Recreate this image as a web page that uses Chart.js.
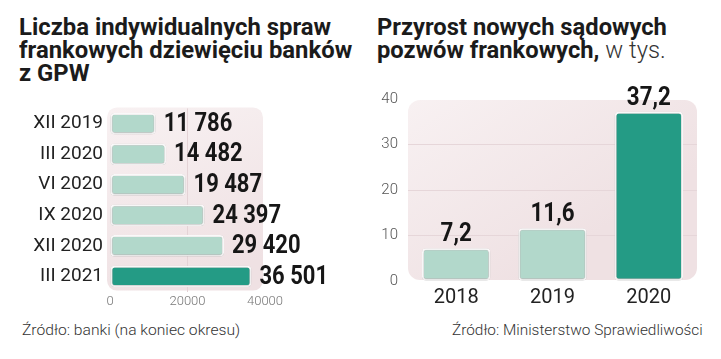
<!DOCTYPE html>
<html>
<head>
<meta charset="utf-8">
<script src="https://cdn.jsdelivr.net/npm/chart.js@4.4.1/dist/chart.umd.min.js"></script>
<style>
body{margin:0;background:#fff;width:721px;height:359px;position:relative;overflow:hidden;font-family:Roboto,sans-serif}
.title{position:absolute;top:16px;font-family:Roboto,sans-serif;font-weight:bold;font-size:23px;line-height:23px;color:#1b1b1b;white-space:nowrap;transform-origin:0 0}
.title .light{font-weight:300;color:#333}
.src{position:absolute;top:321px;font-family:Roboto,sans-serif;font-weight:300;font-size:15px;color:#333;white-space:nowrap;transform-origin:0 0}
canvas{position:absolute}
</style>
</head>
<body>
<div class="title" style="left:19px" data-w="333">Liczba indywidualnych spraw<br>frankowych dziewięciu banków<br>z GPW</div>
<div class="title" style="left:377px" data-w="290">Przyrost nowych sądowych<br>pozwów frankowych, <span class="light">w tys.</span></div>
<div style="position:absolute;left:0;top:90px;width:360px;height:220px"><canvas id="cases"></canvas></div>
<div style="position:absolute;left:360px;top:80px;width:361px;height:230px"><canvas id="suits"></canvas></div>
<div class="src" style="left:22px" data-w="218">Źródło: banki (na koniec okresu)</div>
<div class="src" style="left:452px" data-w="251">Źródło: Ministerstwo Sprawiedliwości</div>
<script>
'use strict';
// left chart: cases per period
const periods = ['XII 2019','III 2020','VI 2020','IX 2020','XII 2020','III 2021'];
const caseCounts = [11786,14482,19487,24397,29420,36501];
const caseTicks = [0,20000,40000];
// right chart: new lawsuits, thousands
const years = ['2018','2019','2020'];
const lawsuits = [7.2,11.6,37.2];
const lawsuitTicks = [0,10,20,30,40];

const mint = '#b2d8cb', teal = '#249b85';

// squeeze text blocks to the condensed widths of the original
document.querySelectorAll('[data-w]').forEach(el => {
  el.style.transform = 'scaleX(' + (el.dataset.w / el.scrollWidth) + ')';
});

function spaced(v){ return String(v).replace(/\B(?=(\d{3})+(?!\d))/g,' '); }
function comma(v){ return v.toFixed(1).replace('.',','); }

const plotBg = {
  id:'plotBg',
  beforeDraw(chart, args, o){
    const ctx = chart.ctx, a = chart.chartArea;
    const x = a.left + o.l, y = a.top + o.t, w = a.right + o.r - x, h = a.bottom + o.b - y;
    const g = ctx.createLinearGradient(x, y, x + w * 0.4, y + h);
    g.addColorStop(0,'#f8f1f2');
    g.addColorStop(1,'#efe1e3');
    ctx.save();
    ctx.fillStyle = g;
    ctx.beginPath();
    ctx.roundRect(x, y, w, h, o.radius);
    ctx.fill();
    ctx.restore();
  }
};

const barLabels = {
  id:'barLabels',
  beforeDatasetsDraw(chart){
    const ctx = chart.ctx;
    ctx.save();
    ctx.shadowColor = 'rgba(0,0,0,0.3)';
    ctx.shadowBlur = 2;
    ctx.shadowOffsetY = 0.5;
  },
  afterDatasetsDraw(chart, args, o){
    const ctx = chart.ctx;
    ctx.restore();
    const ds = chart.data.datasets[0];
    ctx.save();
    ctx.font = 'bold ' + o.size + 'px Roboto';
    ctx.fillStyle = '#161616';
    chart.getDatasetMeta(0).data.forEach((bar, i) => {
      const txt = o.fmt(ds.data[i]);
      ctx.save();
      if (o.horizontal) {
        ctx.textAlign = 'left'; ctx.textBaseline = 'middle';
        ctx.translate(bar.x + 8, bar.y + 1);
      } else {
        ctx.textAlign = 'center'; ctx.textBaseline = 'alphabetic';
        ctx.translate(bar.x, bar.y - 7);
      }
      ctx.scale(o.squeeze, 1);
      ctx.fillText(txt, 0, 0);
      ctx.restore();
    });
    ctx.restore();
  }
};

new Chart(document.getElementById('cases'), {
  type:'bar',
  data:{
    labels:periods,
    datasets:[{
      data:caseCounts,
      backgroundColor:caseCounts.map((v,i) => i === caseCounts.length - 1 ? teal : mint),
      borderColor:'#fbfbfb',
      borderWidth:2,
      borderRadius:4,
      borderSkipped:false,
      barPercentage:0.7,
      categoryPercentage:1
    }]
  },
  options:{
    indexAxis:'y',
    responsive:true,
    maintainAspectRatio:false,
    animation:false,
    layout:{padding:{top:12,right:95,left:0,bottom:0}},
    plugins:{
      legend:{display:false},
      tooltip:{enabled:false},
      plotBg:{l:-3,r:-2,t:-1,b:-1,radius:10},
      barLabels:{horizontal:true,size:25,squeeze:0.88,fmt:spaced}
    },
    scales:{
      x:{
        min:0,max:40000,
        afterBuildTicks:s => { s.ticks = caseTicks.map(v => ({value:v})); },
        afterFit:s => { s.height = 17; },
        border:{display:false},
        grid:{drawTicks:false,color:c => c.tick && c.tick.value === 20000 ? '#e4d3d6' : 'transparent'},
        ticks:{padding:2,color:'#777',font:{family:'Roboto',size:13,weight:300},callback:v => String(v)}
      },
      y:{
        afterFit:s => { s.width = 110; },
        border:{display:false},
        grid:{display:false,drawTicks:false},
        ticks:{padding:7,color:'#222',font:{family:'Roboto',size:19}}
      }
    }
  },
  plugins:[plotBg,barLabels]
});

new Chart(document.getElementById('suits'), {
  type:'bar',
  data:{
    labels:years,
    datasets:[{
      data:lawsuits,
      backgroundColor:lawsuits.map((v,i) => i === lawsuits.length - 1 ? teal : mint),
      borderColor:'#fbfbfb',
      borderWidth:2,
      borderRadius:4,
      borderSkipped:false,
      barPercentage:0.71,
      categoryPercentage:1
    }]
  },
  options:{
    responsive:true,
    maintainAspectRatio:false,
    animation:false,
    layout:{padding:{top:17,right:24,left:0,bottom:0}},
    plugins:{
      legend:{display:false},
      tooltip:{enabled:false},
      plotBg:{l:0,r:0,t:1,b:-1,radius:12},
      barLabels:{horizontal:false,size:26,squeeze:0.86,fmt:comma}
    },
    scales:{
      x:{
        afterFit:s => { s.height = 29; },
        border:{display:false},
        grid:{display:false,drawTicks:false},
        ticks:{padding:5,color:'#222',font:{family:'Roboto',size:20}}
      },
      y:{
        min:0,max:40,
        afterBuildTicks:s => { s.ticks = lawsuitTicks.map(v => ({value:v})); },
        afterFit:s => { s.width = 48; },
        border:{display:false},
        grid:{drawTicks:false,color:c => c.tick && c.tick.value > 0 && c.tick.value < 40 ? '#e6d6d9' : 'transparent'},
        ticks:{padding:10,color:'#555',font:{family:'Roboto',size:15,weight:300}}
      }
    }
  },
  plugins:[plotBg,barLabels]
});
</script>
</body>
</html>
